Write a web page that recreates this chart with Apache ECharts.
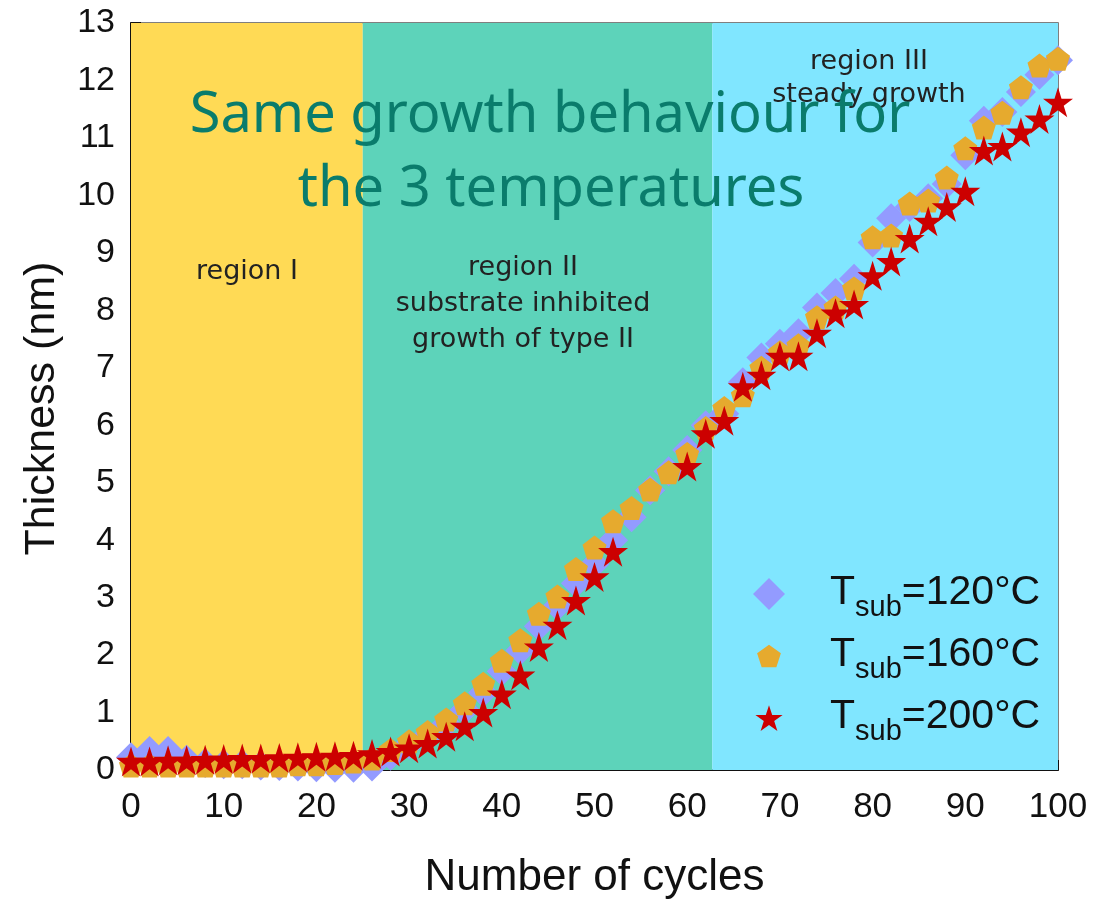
<!DOCTYPE html>
<html>
<head>
<meta charset="utf-8">
<script src="https://cdn.jsdelivr.net/npm/echarts@6/dist/echarts.min.js"></script>
<style>
html,body{margin:0;padding:0;background:#fff;}
#chart{width:1107px;height:899px;}
</style>
</head>
<body>
<div id="chart"></div>
<script>
// cycles (x) for all three series
var cycles = [0,2,4,6,8,10,12,14,16,18,20,22,24,26,28,30,32,34,36,38,40,42,44,46,48,50,
  52,54,56,58,60,62,64,66,68,70,72,74,76,78,80,82,84,86,88,90,92,94,96,98,100];

// thickness (nm)
var t120 = [0.22,0.33,0.33,0.18,0.12,0.10,0.10,0.08,0.07,0.06,0.05,0.04,0.04,0.06,0.25,0.45,
  0.60,0.80,1.05,1.35,1.72,2.08,2.50,2.85,3.25,3.58,4.00,4.40,4.87,5.20,5.57,6.00,6.20,6.75,
  7.18,7.42,7.60,8.05,8.30,8.55,9.18,9.60,9.80,9.95,10.20,10.70,11.30,11.45,11.80,12.10,12.35];
var t160 = [0.08,0.08,0.08,0.08,0.08,0.08,0.08,0.08,0.08,0.10,0.10,0.12,0.15,0.20,0.35,0.50,
  0.66,0.88,1.16,1.50,1.90,2.26,2.72,3.02,3.50,3.87,4.33,4.56,4.88,5.18,5.50,5.95,6.30,6.52,
  7.00,7.27,7.39,7.88,8.05,8.38,9.27,9.30,9.86,9.91,10.31,10.82,11.18,11.44,11.88,12.26,12.38];
var t200 = [0.15,0.15,0.17,0.17,0.18,0.19,0.20,0.20,0.21,0.22,0.23,0.24,0.25,0.28,0.32,0.38,
  0.46,0.58,0.76,1.00,1.32,1.65,2.14,2.52,2.95,3.36,3.80,null,null,null,5.28,5.85,6.08,6.67,
  6.87,7.20,7.20,7.60,7.95,8.10,8.60,8.85,9.25,9.55,9.80,10.07,10.78,10.85,11.10,11.33,11.62];

var temps = ['120', '160', '200'];
var xTicks = [0,10,20,30,40,50,60,70,80,90,100];

// shaded growth regions (cycle ranges)
var regionStart = [0, 25, 62.7];
var regionEnd = [25, 62.7, 100];
var regionColors = ['#FFDA55', '#5DD3BA', '#80E6FF'];

var diamond = 'diamond';
var pentagon = 'path://M50,0L97.6,34.5L79.4,90.5L20.6,90.5L2.4,34.5Z';
var star = 'path://M50,0L61.2,34.5L97.6,34.5L68.2,55.9L79.4,90.5L50,69.1L20.6,90.5L31.8,55.9L2.4,34.5L38.8,34.5Z';
// legend icons: a zero-length segment pads the box so the mark draws smaller
var pentagonIcon = 'path://M-14,-18L-14,-18M114,109L114,109M50,0L97.6,34.5L79.4,90.5L20.6,90.5L2.4,34.5Z';
var starIcon = 'path://M-6,-8L-6,-8M106,98L106,98M50,0L61.2,34.5L97.6,34.5L68.2,55.9L79.4,90.5L50,69.1L20.6,90.5L31.8,55.9L2.4,34.5L38.8,34.5Z';

function pts(vals){
  var out = [];
  for (var i = 0; i < cycles.length; i++) {
    if (vals[i] != null) out.push([cycles[i], vals[i]]);
  }
  return out;
}

var areas = [];
for (var k = 0; k < regionStart.length; k++) {
  areas.push([{xAxis: regionStart[k], itemStyle: {color: regionColors[k]}}, {xAxis: regionEnd[k]}]);
}

var txt = {font: '27px "DejaVu Sans"', fill: '#222', align: 'center'};
var big = {font: '56px "Noto Sans"', fill: '#0A7C6C', align: 'center'};

var myChart = echarts.init(document.getElementById('chart'));
myChart.setOption({
  animation: false,
  grid: {left: 131, right: 49, top: 23, bottom: 129, show: true, borderColor: '#555', borderWidth: 1.5,
    outerBoundsMode: 'none', containLabel: false},
  xAxis: {
    type: 'value', min: 0, max: 100, interval: 10,
    name: 'Number of cycles', nameLocation: 'middle', nameGap: 86,
    nameTextStyle: {fontFamily: 'Liberation Sans', fontSize: 44, color: '#111'},
    axisLine: {lineStyle: {color: '#111', width: 2}},
    axisTick: {inside: true, length: 10, lineStyle: {color: '#111', width: 2}},
    minorTick: {show: true, splitNumber: 2, length: 6, lineStyle: {color: '#111', width: 2}},
    splitLine: {show: false},
    axisLabel: {fontFamily: 'Liberation Sans', fontSize: 35, color: '#111', margin: 20,
      formatter: function(v){ return xTicks.indexOf(v) >= 0 ? String(v) : ''; }}
  },
  yAxis: {
    type: 'value', min: 0, max: 13, interval: 1,
    name: 'Thickness (nm)', nameLocation: 'middle', nameGap: 67,
    nameTextStyle: {fontFamily: 'Liberation Sans', fontSize: 43, color: '#111', padding: [0, 24, 0, 0]},
    axisLine: {lineStyle: {color: '#111', width: 2}},
    axisTick: {inside: true, length: 10, lineStyle: {color: '#111', width: 2}},
    minorTick: {show: true, splitNumber: 2, length: 6, lineStyle: {color: '#111', width: 2}},
    splitLine: {show: false},
    axisLabel: {fontFamily: 'Liberation Sans', fontSize: 34, color: '#111', margin: 16}
  },
  legend: {
    orient: 'vertical', left: 748, top: 567, itemGap: 12,
    itemWidth: 32, itemHeight: 32,
    data: [
      {name: temps[0], icon: diamond},
      {name: temps[1], icon: pentagonIcon},
      {name: temps[2], icon: starIcon}
    ],
    formatter: function(name){ return '{t|T}{s|sub}{t|=' + name + '°C}'; },
    textStyle: {
      padding: [0, 0, 0, 40],
      rich: {
        t: {fontFamily: 'Liberation Sans', fontSize: 41, color: '#111', verticalAlign: 'top', lineHeight: 44},
        s: {fontFamily: 'Liberation Sans', fontSize: 29, color: '#111', verticalAlign: 'top', lineHeight: 27, padding: [21, 0, 0, 0]}
      }
    }
  },
  graphic: [
    {type: 'text', z: 100, x: 247, y: 254, style: Object.assign({text: 'region I', lineHeight: 36}, txt)},
    {type: 'text', z: 100, x: 523, y: 250, style: Object.assign({text: 'region II\nsubstrate inhibited\ngrowth of type II', lineHeight: 36}, txt)},
    {type: 'text', z: 100, x: 869, y: 45, style: Object.assign({text: 'region III\nsteady growth', lineHeight: 33}, txt)},
    {type: 'text', z: 101, x: 550, y: 88, style: Object.assign({text: 'Same growth behaviour for'}, big)},
    {type: 'text', z: 101, x: 551, y: 162, style: Object.assign({text: 'the 3 temperatures'}, big)}
  ],
  series: [
    {
      name: '120', type: 'scatter', z: 3, symbol: diamond, symbolSize: 30,
      itemStyle: {color: '#939BFF', opacity: 1}, data: pts(t120),
      markArea: {silent: true, z: 1, data: areas}
    },
    {
      name: '160', type: 'scatter', z: 4, symbol: pentagon, symbolSize: 24,
      itemStyle: {color: '#E6AA2E', opacity: 1}, data: pts(t160)
    },
    {
      name: '200', type: 'scatter', z: 5, symbol: star, symbolSize: 30,
      itemStyle: {color: '#CC0000', opacity: 1}, data: pts(t200)
    }
  ]
});
</script>
</body>
</html>
